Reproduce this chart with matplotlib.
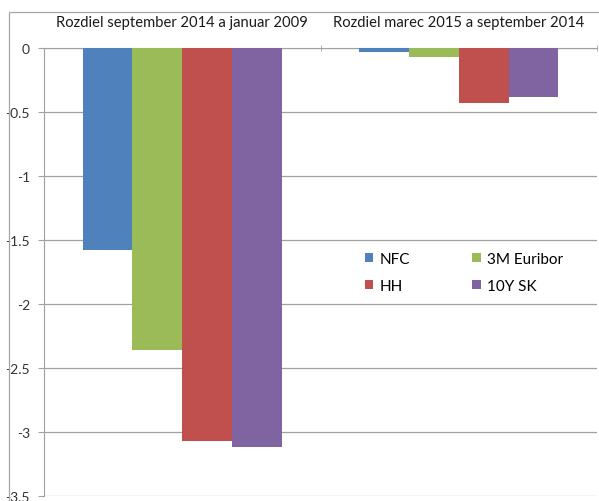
import numpy as np
import matplotlib.pyplot as plt
from matplotlib.patches import Rectangle

plt.rcParams['font.family'] = ['Lato', 'DejaVu Sans']

periods = ['Rozdiel september 2014 a januar 2009', 'Rozdiel marec 2015 a september 2014']
series = ['NFC', '3M Euribor', 'HH', '10Y SK']
nfc = [-1.58, -0.03]
euribor = [-2.36, -0.07]
hh = [-3.07, -0.43]
sk10y = [-3.12, -0.38]
colors = ['#4F81BD', '#9BBB59', '#C0504D', '#8064A2']

fig = plt.figure(figsize=(5.99, 5.02), dpi=100)
# outer chart frame
fig.patches.append(Rectangle((9 / 599, -0.02), 1.0, 1 - 13 / 502 + 0.02,
                             transform=fig.transFigure, fill=False,
                             edgecolor='#a6a6a6', linewidth=0.9))

ax = fig.add_axes([44 / 599, 5 / 502, 553 / 599, 448 / 502])

x = np.arange(len(periods))
width = 0.18
values = [nfc, euribor, hh, sk10y]
bars = []
for i, (vals, name, col) in enumerate(zip(values, series, colors)):
    b = ax.bar(x + (i - 1.5) * width, vals, width, color=col, label=name, zorder=3)
    bars.append(b)

ax.set_xlim(-0.5, 1.5)
ax.set_ylim(-3.5, 0)
ax.set_yticks(np.arange(-3.5, 0.01, 0.5))
ax.set_yticklabels(['-3.5', '-3', '-2.5', '-2', '-1.5', '-1', '-0.5', '0'])
ax.grid(axis='y', color='#a0a0a0', linewidth=0.9, zorder=0)

ax.xaxis.tick_top()
ax.set_xticks(x)
ax.set_xticklabels(periods, fontsize=10.6, color='#1a1a1a')
ax.tick_params(axis='x', length=0, pad=14)
ax.set_xticks([0.5, 1.5], minor=True)
ax.tick_params(axis='x', which='minor', length=5, direction='inout', color='#a0a0a0')
ax.tick_params(axis='y', length=4, color='#a0a0a0', labelsize=10, labelcolor='#333333', pad=6)

for s in ['right', 'bottom']:
    ax.spines[s].set_visible(False)
ax.spines['left'].set_color('#a0a0a0')
ax.spines['top'].set_color('#a0a0a0')

# row-wise legend order: NFC, 3M Euribor / HH, 10Y SK
order = [0, 2, 1, 3]
ax.legend([bars[i] for i in order], [series[i] for i in order],
          ncol=2, loc='upper left', bbox_to_anchor=(0.555, 0.576), frameon=False,
          fontsize=11, handlelength=0.55, handleheight=0.55, handletextpad=0.4,
          columnspacing=4.1, labelspacing=0.85)

fig.savefig('out.png', dpi=100)
